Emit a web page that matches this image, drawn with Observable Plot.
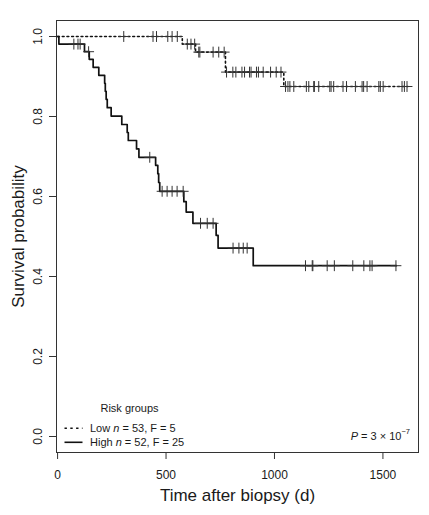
<!DOCTYPE html>
<html><head><meta charset="utf-8">
<script src="https://cdn.jsdelivr.net/npm/d3@7"></script>
<script src="https://cdn.jsdelivr.net/npm/@observablehq/plot@0.6"></script>
<style>
body{margin:0;background:#fff;}
#wrap{position:relative;width:429px;height:515px;}
</style></head><body>
<div id="wrap"></div>
<script>
// ---- data ----
const xTicks = [0, 500, 1000, 1500];
const yTicks = [0, 0.2, 0.4, 0.6, 0.8, 1.0];

// High-risk group: step times (days) and survival after each step
const highTime = [0, 6, 124, 146, 164, 190, 217, 220, 224, 229, 247, 296, 321, 326, 364, 375, 452, 462, 466, 471, 582, 593, 624, 731, 740, 902, 1562];
const highSurv = [1.0, 0.981, 0.962, 0.943, 0.923, 0.903, 0.883, 0.863, 0.843, 0.822, 0.801, 0.780, 0.760, 0.740, 0.719, 0.698, 0.678, 0.657, 0.635, 0.613, 0.587, 0.561, 0.533, 0.503, 0.471, 0.427, 0.427];
const highCensor = [75, 94, 104, 143, 425, 482, 505, 528, 551, 579, 659, 690, 717, 809, 836, 856, 874, 1143, 1174, 1177, 1243, 1276, 1361, 1412, 1440, 1450, 1560];

// Low-risk group
const lowTime = [0, 575, 636, 774, 1043, 1615];
const lowSurv = [1.0, 0.981, 0.961, 0.911, 0.875, 0.875];
const lowCensor = [305, 440, 456, 508, 528, 552, 598, 615, 632, 651, 656, 717, 743, 768,
  779, 808, 822, 850, 862, 885, 892, 917, 926, 948, 982, 1008, 1030,
  1051, 1062, 1071, 1089, 1147, 1158, 1181, 1184, 1204, 1255, 1261, 1273, 1316, 1332, 1373, 1404, 1411, 1427, 1481, 1488, 1501, 1588, 1599, 1611];

const groupNames = ["Low", "High"];
const groupN = [53, 52];
const groupF = [5, 25];
const legendTitle = "Risk groups";
const pMantissa = "3";
const pExponent = "−7";
const xLabel = "Time after biopsy (d)";
const yLabel = "Survival probability";

// ---- build tables ----
const toSteps = (t, s, g) => t.map((d, i) => ({time: d, surv: s[i], group: g}));
const survAt = (t, s, x) => s[Math.max(0, d3.bisectRight(t, x) - 1)];
const highSteps = toSteps(highTime, highSurv, "High");
const lowSteps = toSteps(lowTime, lowSurv, "Low");
const highMarks = highCensor.map(c => ({time: c, surv: survAt(highTime, highSurv, c)}));
const lowMarks = lowCensor.map(c => ({time: c, surv: survAt(lowTime, lowSurv, c)}));

const font = "'Liberation Sans', Arial, Helvetica, sans-serif";
const ink = "#1a1a1a";

const chart = Plot.plot({
  width: 429, height: 515,
  marginLeft: 56, marginRight: 11, marginTop: 20, marginBottom: 63,
  style: {fontFamily: font, fontSize: "12px", color: ink, background: "#fff", overflow: "visible"},
  x: {domain: [-5, 1664]},
  y: {domain: [-0.04, 1.04]},
  marks: [
    Plot.frame({stroke: "#333", strokeWidth: 1}),
    Plot.axisX(xTicks, {tickSize: 7, tickPadding: 11, tickFormat: d => String(d), label: null, stroke: "#333"}),
    Plot.axisY(yTicks, {tickSize: 7, tickFormat: () => "", label: null, stroke: "#333"}),
    Plot.text(yTicks, {y: d => d, text: d => d.toFixed(1), frameAnchor: "left", textAnchor: "middle", dx: -18, rotate: -90, fontSize: 12, fill: ink}),
    Plot.text([xLabel], {frameAnchor: "bottom", textAnchor: "middle", dy: 48, fontSize: 17, fill: ink}),
    Plot.text([yLabel], {frameAnchor: "left", textAnchor: "middle", dx: -38, rotate: -90, fontSize: 17, fill: ink}),
    Plot.line(lowSteps, {x: "time", y: "surv", curve: "step-after", stroke: "#111", strokeWidth: 1.6, strokeDasharray: "1.8,2.9"}),
    Plot.line(highSteps, {x: "time", y: "surv", curve: "step-after", stroke: "#111", strokeWidth: 1.7}),
    Plot.dot(lowMarks, {x: "time", y: "surv", symbol: "plus", r: 3.6, stroke: "#333", strokeWidth: 1}),
    Plot.dot(highMarks, {x: "time", y: "surv", symbol: "plus", r: 3.6, stroke: "#333", strokeWidth: 1})
  ]
});
document.getElementById("wrap").appendChild(chart);

// ---- legend and P value (layout only) ----
const svg = d3.select(chart);
const g = svg.append("g").attr("font-family", font).attr("font-size", 11).attr("fill", ink).attr("text-anchor", "start");
g.append("text").attr("x", 129.5).attr("y", 408).attr("dy", "0.35em").attr("text-anchor", "middle").text(legendTitle);
const rowsY = [428.3, 442.3];
groupNames.forEach((name, i) => {
  g.append("line").attr("x1", 64.5).attr("x2", 82.5).attr("y1", rowsY[i]).attr("y2", rowsY[i])
    .attr("stroke", "#111").attr("stroke-width", 1.6)
    .attr("stroke-dasharray", i === 0 ? "2.4,3.4" : null);
  const t = g.append("text").attr("x", 90).attr("y", rowsY[i]).attr("dy", "0.35em").attr("text-anchor", "start");
  t.append("tspan").text(name + " ");
  t.append("tspan").attr("font-style", "italic").text("n");
  t.append("tspan").text(" = " + groupN[i] + ", F = " + groupF[i]);
});
const p = g.append("text").attr("x", 410).attr("y", 436).attr("dy", "0.35em").attr("text-anchor", "end");
p.append("tspan").attr("font-style", "italic").text("P");
p.append("tspan").text(" = " + pMantissa + " × 10");
p.append("tspan").attr("font-size", 7.5).attr("dy", "-0.75em").text(pExponent);
</script>
</body></html>
